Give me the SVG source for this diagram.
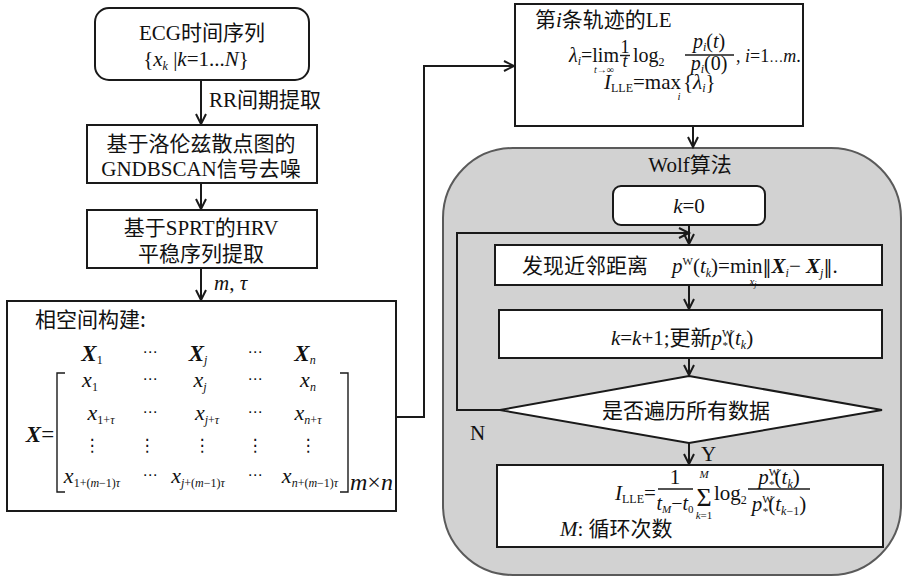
<svg xmlns="http://www.w3.org/2000/svg" width="903" height="578" viewBox="0 0 903 578">
  <style>
    text { font-family: "Liberation Serif", "Times New Roman", serif; font-size: 21px; fill: #111; }
    .zh { font-family: "Noto Sans CJK SC", "Noto Sans CJK TC", sans-serif; font-weight: normal; font-style: normal; }
    .it { font-style: italic; }
    .bi { font-style: italic; font-weight: bold; }
    .sub { font-size: 12px; }
    .mid { text-anchor: middle; }
    .box { fill: #fff; stroke: #1a1a1a; stroke-width: 2; }
    .ln { fill: none; stroke: #1a1a1a; stroke-width: 2; }
    .thin { fill: none; stroke: #1a1a1a; stroke-width: 1.4; }
    .sym { font-family: "DejaVu Serif", "DejaVu Sans", serif; }
  </style>
  <defs>
    <marker id="arr" markerUnits="userSpaceOnUse" markerWidth="14" markerHeight="14" refX="11" refY="6" orient="auto">
      <path d="M1,1 L11,6 L1,11" fill="none" stroke="#1a1a1a" stroke-width="2"/>
    </marker>
  </defs>

  <!-- Wolf algorithm panel background -->
  <g id="wolf-panel">
    <rect x="443" y="148" width="458" height="427" rx="70" ry="70" fill="#d2d2d2" stroke="#5a5a5a" stroke-width="2"/>
    <text x="690" y="172" class="mid">Wolf<tspan class="zh">算法</tspan></text>
  </g>

  <!-- connectors -->
  <g id="connectors">
    <line x1="201" y1="80" x2="201" y2="124" class="ln" marker-end="url(#arr)"/>
    <line x1="201" y1="183" x2="201" y2="209" class="ln" marker-end="url(#arr)"/>
    <line x1="201" y1="268" x2="201" y2="300" class="ln" marker-end="url(#arr)"/>
    <polyline points="396,417 424,417 424,66 514,66" class="ln" marker-end="url(#arr)"/>
    <line x1="693" y1="126" x2="693" y2="147" class="ln" marker-end="url(#arr)"/>
    <line x1="689" y1="225" x2="689" y2="244" class="ln" marker-end="url(#arr)"/>
    <polyline points="500,410 457,410 457,233 689,233" class="ln" marker-end="url(#arr)"/>
    <line x1="689" y1="285" x2="689" y2="309" class="ln" marker-end="url(#arr)"/>
    <line x1="689" y1="358" x2="689" y2="375" class="ln" marker-end="url(#arr)"/>
    <line x1="689" y1="443" x2="689" y2="464" class="ln" marker-end="url(#arr)"/>
    <text x="209" y="107">RR<tspan class="zh">间期提取</tspan></text>
    <text x="214" y="290"><tspan class="it">m</tspan>, <tspan class="it">τ</tspan></text>
    <text x="470" y="440">N</text>
    <text x="701" y="461">Y</text>
  </g>

  <!-- ECG input -->
  <g id="ecg">
    <rect x="95" y="8" width="214" height="72" rx="14" ry="14" class="box"/>
    <text x="202" y="40" class="mid">ECG<tspan class="zh">时间序列</tspan></text>
    <text x="196" y="66" class="mid">{<tspan class="it">x</tspan><tspan class="sub it" dy="4">k</tspan><tspan dy="-4"> |</tspan><tspan class="it">k</tspan>=1...<tspan class="it">N</tspan>}</text>
  </g>

  <!-- denoising -->
  <g id="denoise">
    <rect x="87" y="125" width="230" height="58" class="box"/>
    <text x="201" y="151" class="mid"><tspan class="zh">基于洛伦兹散点图的</tspan></text>
    <text x="201" y="176" class="mid">GNDBSCAN<tspan class="zh">信号去噪</tspan></text>
  </g>

  <!-- stationary extraction -->
  <g id="sprt">
    <rect x="87" y="210" width="230" height="58" class="box"/>
    <text x="201" y="235" class="mid"><tspan class="zh">基于</tspan>SPRT<tspan class="zh">的</tspan>HRV</text>
    <text x="201" y="261" class="mid"><tspan class="zh">平稳序列提取</tspan></text>
  </g>

  <!-- phase space -->
  <g id="phase-space">
    <rect x="7" y="301" width="389" height="210" class="box"/>
    <text x="35" y="327"><tspan class="zh">相空间构建:</tspan></text>
    <!-- column vectors -->
    <text x="92" y="361" class="mid" style="font-size:23px"><tspan class="bi">X</tspan><tspan class="sub" dy="3">1</tspan></text>
    <text x="150" y="357" class="mid sym" style="font-size:15px">⋯</text>
    <text x="198" y="361" class="mid" style="font-size:23px"><tspan class="bi">X</tspan><tspan class="sub it" dy="3">j</tspan></text>
    <text x="255" y="357" class="mid sym" style="font-size:15px">⋯</text>
    <text x="305" y="361" class="mid" style="font-size:23px"><tspan class="bi">X</tspan><tspan class="sub it" dy="3">n</tspan></text>
    <!-- matrix -->
    <text x="40" y="442" class="mid" style="font-size:23px"><tspan class="bi">X</tspan>=</text>
    <path d="M65,373 H57 V492 H65" class="thin"/>
    <path d="M340,373 H348 V492 H340" class="thin"/>
    <text x="90" y="387" class="mid" style="font-size:22px"><tspan class="it">x</tspan><tspan class="sub" dy="4">1</tspan></text>
    <text x="150" y="384" class="mid sym" style="font-size:15px">⋯</text>
    <text x="200" y="387" class="mid" style="font-size:22px"><tspan class="it">x</tspan><tspan class="sub it" dy="4">j</tspan></text>
    <text x="255" y="384" class="mid sym" style="font-size:15px">⋯</text>
    <text x="308" y="387" class="mid" style="font-size:22px"><tspan class="it">x</tspan><tspan class="sub it" dy="4">n</tspan></text>

    <text x="101" y="420" class="mid" style="font-size:22px"><tspan class="it">x</tspan><tspan class="sub" dy="4">1+<tspan class="it">τ</tspan></tspan></text>
    <text x="150" y="417" class="mid sym" style="font-size:15px">⋯</text>
    <text x="207" y="420" class="mid" style="font-size:22px"><tspan class="it">x</tspan><tspan class="sub" dy="4"><tspan class="it">j</tspan>+<tspan class="it">τ</tspan></tspan></text>
    <text x="255" y="417" class="mid sym" style="font-size:15px">⋯</text>
    <text x="308" y="420" class="mid" style="font-size:22px"><tspan class="it">x</tspan><tspan class="sub" dy="4"><tspan class="it">n</tspan>+<tspan class="it">τ</tspan></tspan></text>

    <text x="92" y="451" class="mid sym" style="font-size:17px">⋮</text>
    <text x="147" y="451" class="mid sym" style="font-size:17px">⋮</text>
    <text x="202" y="451" class="mid sym" style="font-size:17px">⋮</text>
    <text x="255" y="451" class="mid sym" style="font-size:17px">⋮</text>
    <text x="308" y="451" class="mid sym" style="font-size:17px">⋮</text>

    <text x="92" y="483" class="mid" style="font-size:22px"><tspan class="it">x</tspan><tspan class="sub" dy="4">1+(<tspan class="it">m</tspan>−1)<tspan class="it">τ</tspan></tspan></text>
    <text x="150" y="480" class="mid sym" style="font-size:15px">⋯</text>
    <text x="198" y="483" class="mid" style="font-size:22px"><tspan class="it">x</tspan><tspan class="sub" dy="4"><tspan class="it">j</tspan>+(<tspan class="it">m</tspan>−1)<tspan class="it">τ</tspan></tspan></text>
    <text x="255" y="480" class="mid sym" style="font-size:15px">⋯</text>
    <text x="310" y="483" class="mid" style="font-size:22px"><tspan class="it">x</tspan><tspan class="sub" dy="4"><tspan class="it">n</tspan>+(<tspan class="it">m</tspan>−1)<tspan class="it">τ</tspan></tspan></text>
    <text x="350" y="490" style="font-size:24px"><tspan class="it">m</tspan>×<tspan class="it">n</tspan></text>
  </g>

  <!-- Lyapunov exponent of trajectory i -->
  <g id="le">
    <rect x="515" y="4" width="288" height="122" class="box"/>
    <text x="535" y="27"><tspan class="zh">第</tspan><tspan class="it">i</tspan><tspan class="zh">条轨迹的</tspan>LE</text>
    <text x="569" y="62" style="font-size:20px"><tspan class="it">λ</tspan><tspan class="sub it" dy="3">i</tspan><tspan dy="-3">=lim</tspan></text>
    <text x="604" y="73" class="mid it" style="font-size:10px">t<tspan font-style="normal">→∞</tspan></text>
    <text x="625" y="53" class="mid" style="font-size:18px">1</text>
    <line x1="620" y1="55.5" x2="630" y2="55.5" class="thin"/>
    <text x="625" y="67" class="mid it" style="font-size:18px">t</text>
    <text x="633" y="62" style="font-size:20px">log<tspan class="sub" dy="4">2</tspan></text>
    <text x="709" y="48" class="mid" style="font-size:20px"><tspan class="it">p</tspan><tspan class="sub it" dy="3">i</tspan><tspan dy="-3">(</tspan><tspan class="it">t</tspan>)</text>
    <line x1="685" y1="55" x2="734" y2="55" class="thin"/>
    <text x="709" y="70" class="mid" style="font-size:20px"><tspan class="it">p</tspan><tspan class="sub it" dy="3">i</tspan><tspan dy="-3">(0)</tspan></text>
    <text x="736" y="62" style="font-size:18px">, <tspan class="it">i</tspan>=1<tspan style="font-size:14px">…</tspan><tspan class="it">m</tspan>.</text>
    <text x="604" y="89"><tspan class="it">I</tspan><tspan class="sub" dy="3">LLE</tspan><tspan dy="-3">=max</tspan><tspan dx="2">{</tspan><tspan class="it">λ</tspan><tspan class="sub it" dy="3">i</tspan><tspan dy="-3">}</tspan></text>
    <text x="679" y="100" class="mid it" style="font-size:11px">i</text>
  </g>

  <!-- k = 0 -->
  <g id="init">
    <rect x="613" y="186" width="152" height="39" rx="8" ry="8" class="box"/>
    <text x="689" y="213" class="mid"><tspan class="it">k</tspan>=0</text>
  </g>

  <!-- nearest neighbour -->
  <g id="neighbour">
    <rect x="495" y="245" width="387" height="40" class="box"/>
    <text x="522" y="273"><tspan class="zh">发现近邻距离</tspan></text>
    <text x="672" y="273"><tspan class="it">p</tspan><tspan style="font-size:11px" dy="-8">W</tspan><tspan dy="8">(</tspan><tspan class="it">t</tspan><tspan class="sub it" dy="4">k</tspan><tspan dy="-4">)=min</tspan><tspan class="sym" style="font-size:18px">‖</tspan><tspan class="bi">X</tspan><tspan class="sub it" dy="4">i</tspan><tspan dy="-4">− </tspan><tspan class="bi">X</tspan><tspan class="sub it" dy="4">j</tspan><tspan dy="-4" class="sym" style="font-size:18px">‖</tspan><tspan>.</tspan></text>
    <text x="753" y="285" class="mid it" style="font-size:11px">x<tspan style="font-size:8px" dy="2">j</tspan></text>
  </g>

  <!-- update -->
  <g id="update">
    <rect x="499" y="310" width="383" height="48" class="box"/>
    <text x="682" y="345" class="mid"><tspan class="it">k</tspan>=<tspan class="it">k</tspan>+1;<tspan class="zh">更新</tspan><tspan class="it">p</tspan><tspan style="font-size:11px" dy="-8">W</tspan><tspan style="font-size:11px" dx="-10" dy="12">*</tspan><tspan dy="-4">(</tspan><tspan class="it">t</tspan><tspan class="sub it" dy="4">k</tspan><tspan dy="-4">)</tspan></text>
  </g>

  <!-- decision -->
  <g id="decision">
    <polygon points="689,376 882,410 689,443 500,410" class="box"/>
    <text x="686" y="418" class="mid"><tspan class="zh">是否遍历所有数据</tspan></text>
  </g>

  <!-- largest Lyapunov exponent -->
  <g id="result">
    <rect x="497" y="465" width="386" height="82" class="box"/>
    <text x="615" y="500"><tspan class="it">I</tspan><tspan class="sub" dy="3">LLE</tspan><tspan dy="-3">=</tspan></text>
    <text x="675" y="484" class="mid">1</text>
    <line x1="658" y1="489" x2="693" y2="489" class="thin"/>
    <text x="675" y="510" class="mid" style="font-size:20px"><tspan class="it">t</tspan><tspan class="it" style="font-size:11px" dy="3">M</tspan><tspan dy="-3">−</tspan><tspan class="it">t</tspan><tspan style="font-size:11px" dy="3">0</tspan></text>
    <text x="704" y="478" class="mid it" style="font-size:11px">M</text>
    <text x="704" y="506" class="mid" style="font-size:26px">Σ</text>
    <text x="704" y="519" class="mid" style="font-size:11px"><tspan class="it">k</tspan>=1</text>
    <text x="714" y="500">log<tspan class="sub" dy="4">2</tspan></text>
    <text x="779" y="484" class="mid"><tspan class="it">p</tspan><tspan style="font-size:11px" dy="-8">W</tspan><tspan style="font-size:11px" dx="-10" dy="12">*</tspan><tspan dy="-4">(</tspan><tspan class="it">t</tspan><tspan class="sub it" dy="4">k</tspan><tspan dy="-4">)</tspan></text>
    <line x1="748" y1="489" x2="810" y2="489" class="thin"/>
    <text x="779" y="511" class="mid"><tspan class="it">p</tspan><tspan style="font-size:11px" dy="-8">W</tspan><tspan style="font-size:11px" dx="-10" dy="12">*</tspan><tspan dy="-4">(</tspan><tspan class="it">t</tspan><tspan class="sub" dy="4"><tspan class="it">k</tspan>−1</tspan><tspan dy="-4">)</tspan></text>
    <text x="560" y="536"><tspan class="it">M</tspan>: <tspan class="zh">循环次数</tspan></text>
  </g>
</svg>
